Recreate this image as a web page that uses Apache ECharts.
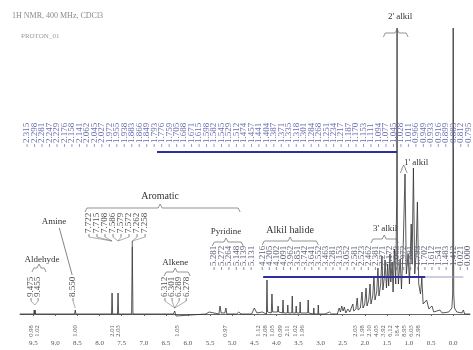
<!DOCTYPE html>
<html>
<head>
<meta charset="utf-8">
<script src="https://cdn.jsdelivr.net/npm/echarts@6/dist/echarts.min.js"></script>
<style>
  html, body { margin: 0; padding: 0; background: #fff; }
  #chart { width: 473px; height: 350px; }
</style>
</head>
<body>
<div id="chart"></div>
<script>
// Chemical-shift axis ticks (ppm)
const ppmTicks = [9.5, 9.0, 8.5, 8.0, 7.5, 7.0, 6.5, 6.0, 5.5, 5.0, 4.5, 4.0, 3.5, 3.0, 2.5, 2.0, 1.5, 1.0, 0.5, 0.0];

// 1H trace vertices: [shift in ppm, intensity]
const spectrum = [
  [9.80, 0], [9.60, 0], [9.49, 0], [9.478, 4], [9.468, 0], [9.458, 4], [9.448, 0],
  [8.80, 0], [8.565, 0], [8.55, 4], [8.535, 0],
  [7.90, 0], [7.73, 0], [7.717, 21], [7.704, 0], [7.595, 0], [7.582, 21], [7.569, 0],
  [7.275, 0], [7.26, 67], [7.245, 0],
  [6.60, 0], [6.33, 0], [6.30, 3], [6.27, -2], [6.24, 0],
  [5.60, 0], [5.52, 2], [5.48, 0],
  [5.30, 0], [5.275, 8], [5.25, 1], [5.165, 1], [5.142, 6], [5.12, 0],
  [4.90, 0], [4.85, 2], [4.80, 0],
  [4.56, 0], [4.50, 6], [4.44, 1], [4.32, 2], [4.225, 0], [4.213, 34], [4.200, 2],
  [4.115, 1], [4.100, 20], [4.085, 2], [3.975, 2], [3.962, 8], [3.948, 2],
  [3.862, 1], [3.850, 14], [3.838, 1], [3.752, 1], [3.742, 9], [3.731, 1],
  [3.652, 1], [3.641, 18], [3.630, 1], [3.562, 1], [3.552, 8], [3.541, 1],
  [3.473, 1], [3.463, 12], [3.452, 1], [3.292, 1], [3.281, 14], [3.270, 1],
  [3.163, 0], [3.153, 6], [3.143, 0], [3.062, 0], [3.052, 9], [3.042, 0],
  [2.90, 0], [2.80, 2], [2.75, 0], [2.62, 0], [2.581, 6], [2.55, 2], [2.523, 8],
  [2.49, 3], [2.462, 7], [2.43, 1], [2.381, 5], [2.34, 2],
  [2.30, 3], [2.271, 10], [2.25, 3], [2.20, 5], [2.172, 16], [2.15, 4], [2.10, 6],
  [2.063, 22], [2.04, 6], [2.00, 10], [1.972, 26], [1.95, 8], [1.91, 14], [1.881, 30],
  [1.86, 10], [1.82, 18], [1.793, 38], [1.77, 14], [1.73, 22], [1.702, 46], [1.68, 18],
  [1.64, 30], [1.612, 58], [1.59, 24], [1.56, 36], [1.541, 54], [1.51, 26], [1.483, 50],
  [1.46, 28], [1.43, 60], [1.412, 32], [1.38, 52], [1.36, 22], [1.33, 65], [1.30, 30],
  [1.278, 120], [1.270, 286], [1.262, 60], [1.24, 30], [1.20, 55], [1.17, 25], [1.13, 70],
  [1.09, 140], [1.06, 40], [1.02, 60], [0.99, 30], [0.95, 90], [0.93, 50], [0.90, 146],
  [0.87, 40], [0.84, 60], [0.81, 112], [0.78, 30], [0.74, 20], [0.71, 36], [0.68, 10],
  [0.64, 12], [0.60, 14], [0.55, 5], [0.48, 8], [0.44, 2], [0.30, 4], [0.25, 1],
  [0.10, 2], [0.03, 6], [0.012, 20], [0.0, 286], [-0.012, 20], [-0.03, 6], [-0.08, 2],
  [-0.20, 1], [-0.23, 4], [-0.26, 0], [-0.38, 0]
];

// Peak-pick labels (ppm), one list per label block
const topRowShifts = ['2.315','2.298','2.281','2.247','2.229','2.176','2.158','2.141','2.062','2.045',
  '2.027','1.972','1.955','1.938','1.883','1.866','1.849','1.793','1.776','1.759',
  '1.705','1.688','1.671','1.615','1.598','1.582','1.545','1.529','1.512','1.474',
  '1.457','1.441','1.404','1.387','1.371','1.335','1.318','1.301','1.284','1.268',
  '1.251','1.234','1.217','1.187','1.170','1.153','1.111','1.094','1.077','1.045',
  '1.028','1.011','0.966','0.949','0.933','0.916','0.899','0.883','0.812','0.795'];
const aldehydeShifts = ['9.475', '9.455'];
const amineShifts = ['8.550'];
const aromaticShifts = ['7.722', '7.715', '7.708', '7.586', '7.579', '7.572', '7.262', '7.258'];
const alkeneShifts = ['6.312', '6.301', '6.289', '6.278'];
const pyridineShifts = ['5.281', '5.272', '5.264', '5.148', '5.139', '5.131'];
const aliphaticShifts = ['4.216','4.205','4.102','4.091','3.962','3.851','3.742','3.641','3.552','3.463',
  '3.281','3.153','3.052','2.581','2.523','2.462','2.381','2.271','2.172','2.063',
  '1.972','1.881','1.793','1.702','1.612','1.541','1.483','1.412','0.021','0.000'];

// Integrals: region centre (ppm) and value
const integralShifts = [9.55, 9.41, 8.55, 7.71, 7.58, 6.24, 5.16,
  4.41, 4.25, 4.10, 3.91, 3.76, 3.57, 3.42,
  2.22, 2.06, 1.90, 1.74, 1.58, 1.43, 1.27, 1.11, 0.95, 0.79];
const integralValues = ['0.98', '1.02', '1.00', '2.01', '2.03', '1.05', '0.97',
  '1.12', '2.08', '1.05', '0.99', '2.11', '1.02', '1.96',
  '2.03', '1.98', '2.10', '4.05', '3.92', '6.12', '18.4', '8.95', '6.03', '2.98'];

const SERIF = '"Liberation Serif", "DejaVu Serif", serif';

// Layout of each label block along the ppm axis
const labelBlocks = [
  { texts: topRowShifts, from: 9.64, to: -0.34, base: 171, color: '#6a6dae' },
  { texts: aldehydeShifts, from: 9.55, to: 9.39, base: 17, color: '#505050', target: 9.465, knee: 9 },
  { texts: amineShifts, from: 8.60, to: 8.60, base: 17, color: '#505050', target: 8.55, knee: 6 },
  { texts: aromaticShifts, from: 8.24, to: 6.97, base: 81, color: '#505050', targets: [7.717, 7.717, 7.717, 7.582, 7.582, 7.582, 7.26, 7.26], knee: 73 },
  { texts: alkeneShifts, from: 6.52, to: 6.04, base: 17, color: '#505050', target: 6.30, knee: 6 },
  { texts: pyridineShifts, from: 5.41, to: 4.57, base: 48, color: '#5d5f78' },
  { texts: aliphaticShifts, from: 4.32, to: -0.32, base: 48, color: '#5d5f78' }
];

const labelItems = [];
labelBlocks.forEach(b => {
  const n = b.texts.length;
  b.texts.forEach((t, i) => {
    const ppm = n > 1 ? b.from + (b.to - b.from) * i / (n - 1) : b.from;
    const target = b.targets ? b.targets[i] : b.target;
    labelItems.push({ ppm, base: b.base, text: t, color: b.color, target, knee: b.knee });
  });
});

// Group titles, brackets and connector rules
const annotations = [
  { kind: 'title', text: 'Aldehyde', ppm: 9.30, v: 54, size: 9 },
  { kind: 'bracket', from: 9.53, to: 9.21, v: 46, mid: 9.37 },
  { kind: 'title', text: 'Amine', ppm: 9.03, v: 92, size: 9 },
  { kind: 'segment', pts: [[8.91, 86], [8.62, 39]], color: '#666' },
  { kind: 'title', text: 'Aromatic', ppm: 6.63, v: 118, size: 10 },
  { kind: 'bracket', from: 8.33, to: 4.82, v: 106, mid: 6.63 },
  { kind: 'segment', pts: [[7.26, 73], [7.26, 67]], color: '#333' },
  { kind: 'title', text: 'Alkene', ppm: 6.29, v: 51, size: 9 },
  { kind: 'bracket', from: 6.54, to: 5.95, v: 42, mid: 6.29 },
  { kind: 'title', text: 'Pyridine', ppm: 5.14, v: 82, size: 9 },
  { kind: 'bracket', from: 5.45, to: 4.75, v: 72, mid: 5.14 },
  { kind: 'title', text: 'Alkil halide', ppm: 3.69, v: 84, size: 10 },
  { kind: 'bracket', from: 4.32, to: 3.05, v: 73, mid: 3.69 },
  { kind: 'title', text: "3' alkil", ppm: 1.54, v: 85, size: 9 },
  { kind: 'bracket', from: 1.86, to: 1.24, v: 75, mid: 1.56 },
  { kind: 'title', text: "2' alkil", ppm: 1.20, v: 297, size: 9 },
  { kind: 'bracket', from: 1.58, to: 1.02, v: 281, mid: 1.27 },
  { kind: 'title', text: "1' alkil", ppm: 0.84, v: 151, size: 9 },
  { kind: 'bracket', from: 1.20, to: 1.04, v: 145, mid: 1.12 },
  { kind: 'rule', from: 6.70, to: 1.27, v: 162, color: '#2c2f9c', width: 2 },
  { kind: 'rule', from: 4.30, to: 0.63, v: 37, color: '#2c2f9c', width: 2 },
  { kind: 'rule', from: 0.63, to: -0.23, v: 37, color: '#9a9cc4', width: 1 }
];

const chart = echarts.init(document.getElementById('chart'));

function renderLabel(params, api) {
  const d = labelItems[params.dataIndex];
  const p = api.coord([d.ppm, d.base]);
  const children = [{
    type: 'text', x: p[0], y: p[1], rotation: Math.PI / 2,
    style: { text: d.text, fontSize: 9, fontFamily: SERIF, fill: d.color, align: 'left', verticalAlign: 'middle' }
  }, {
    type: 'line', shape: { x1: p[0], y1: p[1] + 1, x2: p[0], y2: p[1] + 4 },
    style: { stroke: d.color, lineWidth: 0.7 }
  }];
  if (d.target !== undefined) {
    const k = api.coord([d.target, d.knee]);
    children.push({
      type: 'line', shape: { x1: p[0], y1: p[1] + 4, x2: k[0], y2: k[1] },
      style: { stroke: '#777', lineWidth: 0.6 }
    });
  }
  return { type: 'group', children };
}

function renderIntegral(params, api) {
  const p = api.coord([integralShifts[params.dataIndex], -17]);
  return {
    type: 'text', x: p[0], y: p[1], rotation: Math.PI / 2,
    style: { text: integralValues[params.dataIndex], fontSize: 6.5, fontFamily: SERIF, fill: '#555', align: 'center', verticalAlign: 'middle' }
  };
}

function renderAnnotation(params, api) {
  const a = annotations[params.dataIndex];
  const stroke = '#666';
  if (a.kind === 'title') {
    const p = api.coord([a.ppm, a.v]);
    return { type: 'text', x: p[0], y: p[1],
      style: { text: a.text, fontSize: a.size, fontFamily: SERIF, fill: '#333', align: 'center', verticalAlign: 'middle' } };
  }
  if (a.kind === 'bracket') {
    const l = api.coord([a.from, a.v]);
    const r = api.coord([a.to, a.v]);
    const m = api.coord([a.mid, a.v]);
    const y = l[1];
    return { type: 'polyline',
      shape: { points: [[l[0], y + 4], [l[0] + 2, y], [m[0] - 2, y], [m[0], y - 4], [m[0] + 2, y], [r[0] - 2, y], [r[0], y + 4]] },
      style: { stroke, lineWidth: 0.7, fill: null } };
  }
  if (a.kind === 'segment') {
    return { type: 'polyline', shape: { points: a.pts.map(q => api.coord(q)) },
      style: { stroke: a.color, lineWidth: 0.8, fill: null } };
  }
  const l = api.coord([a.from, a.v]);
  const r = api.coord([a.to, a.v]);
  return { type: 'line', shape: { x1: l[0], y1: l[1], x2: r[0], y2: r[1] },
    style: { stroke: a.color, lineWidth: a.width } };
}

chart.setOption({
  animation: false,
  backgroundColor: '#fff',
  title: [
    { text: '1H NMR, 400 MHz, CDCl3', left: 7, top: 7,
      textStyle: { fontSize: 8, fontWeight: 'normal', color: '#8a8a8a', fontFamily: SERIF } },
    { text: 'PROTON_01', left: 16, top: 28,
      textStyle: { fontSize: 7, fontWeight: 'normal', color: '#9a9a9a', fontFamily: SERIF } }
  ],
  grid: { left: 20, right: 3, top: 10, bottom: 13 },
  xAxis: {
    type: 'value', inverse: true, min: -0.38, max: 9.8,
    axisLine: { show: true, lineStyle: { color: '#666', width: 1 } },
    axisTick: { show: true, customValues: ppmTicks, length: 2, lineStyle: { color: '#666' } },
    axisLabel: { customValues: ppmTicks, formatter: v => v.toFixed(1), fontSize: 7, color: '#555', fontFamily: SERIF, margin: 3 },
    splitLine: { show: false }
  },
  yAxis: { type: 'value', min: -23, max: 304, show: false },
  series: [
    {
      type: 'line', data: spectrum, showSymbol: false, symbol: 'none',
      lineStyle: { color: '#2e2e2e', width: 0.8 }, z: 3, silent: true
    },
    {
      type: 'custom', data: labelItems.map(d => [d.ppm, d.base]),
      renderItem: renderLabel, z: 4, silent: true
    },
    {
      type: 'custom', data: integralShifts.map(s => [s, -17]),
      renderItem: renderIntegral, z: 4, silent: true
    },
    {
      type: 'custom', data: annotations.map(a => [a.ppm !== undefined ? a.ppm : (a.from !== undefined ? a.from : a.pts[0][0]), 0]),
      renderItem: renderAnnotation, z: 5, silent: true
    }
  ]
});
</script>
</body>
</html>
